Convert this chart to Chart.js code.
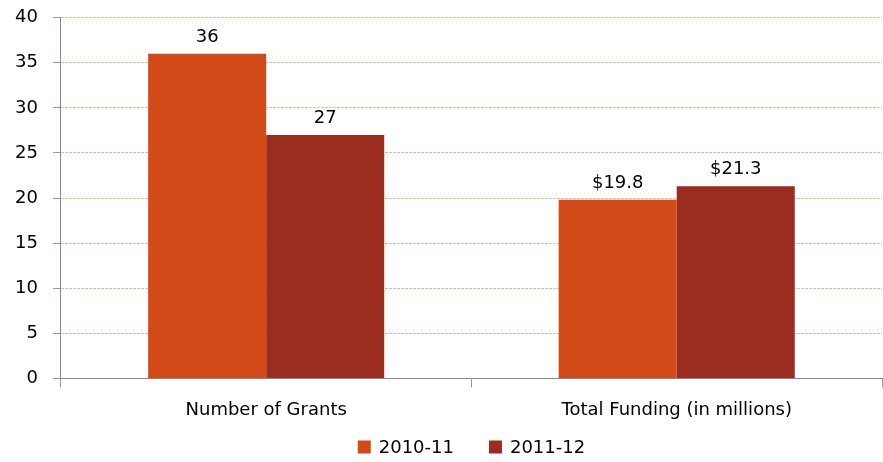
<!DOCTYPE html>
<html>
<head>
<meta charset="utf-8">
<script src="https://cdn.jsdelivr.net/npm/chart.js@4/dist/chart.umd.min.js"></script>
<style>
  html, body { margin: 0; padding: 0; background: #fff; }
  #wrap { width: 883px; height: 462px; }
</style>
</head>
<body>
<div id="wrap"><canvas id="myChart"></canvas></div>
<script>
// data
const categories = ["Number of Grants", "Total Funding (in millions)"];
const series2010 = [36, 19.8];
const series2011 = [27, 21.3];
const valueLabels2010 = ["36", "$19.8"];
const valueLabels2011 = ["27", "$21.3"];
const seriesNames = ["2010-11", "2011-12"];
const seriesColors = ["#D24A17", "#9B2D20"];

const fontFamily = "'DejaVu Sans', sans-serif";

// labels above bars + legend at bottom
const barLabels = {
	id: "barLabels",
	afterDatasetsDraw(chart) {
		const ctx = chart.ctx;
		const texts = [valueLabels2010, valueLabels2011];
		ctx.save();
		ctx.font = "18px " + fontFamily;
		ctx.fillStyle = "#000";
		ctx.textAlign = "center";
		ctx.textBaseline = "alphabetic";
		chart.data.datasets.forEach(function(ds, i) {
			const meta = chart.getDatasetMeta(i);
			meta.data.forEach(function(bar, j) {
				ctx.fillText(texts[i][j], bar.x, bar.y - 12);
			});
		});
		ctx.restore();
	},
	afterDraw(chart) {
		const ctx = chart.ctx;
		const area = chart.chartArea;
		ctx.save();
		ctx.font = "18px " + fontFamily;
		ctx.textBaseline = "middle";
		ctx.textAlign = "left";
		const box = 13, gap = 8, space = 35;
		let total = 0;
		const widths = chart.data.datasets.map(function(ds) {
			return ctx.measureText(ds.label).width;
		});
		widths.forEach(function(w, i) {
			total += box + gap + w + (i > 0 ? space : 0);
		});
		let x = (area.left + area.right) / 2 - total / 2;
		const y = 447;
		chart.data.datasets.forEach(function(ds, i) {
			ctx.fillStyle = ds.backgroundColor;
			ctx.fillRect(x, y - box / 2, box, box);
			ctx.fillStyle = "#000";
			ctx.fillText(ds.label, x + box + gap, y + 1);
			x += box + gap + widths[i] + space;
		});
		ctx.restore();
	}
};

const ctx = document.getElementById("myChart");

new Chart(ctx, {
	type: "bar",
	data: {
		labels: categories,
		datasets: [
			{
				label: seriesNames[0],
				data: series2010,
				backgroundColor: seriesColors[0],
				categoryPercentage: 0.575,
				barPercentage: 1
			},
			{
				label: seriesNames[1],
				data: series2011,
				backgroundColor: seriesColors[1],
				categoryPercentage: 0.575,
				barPercentage: 1
			}
		]
	},
	options: {
		responsive: true,
		maintainAspectRatio: false,
		animation: false,
		layout: {
			padding: { left: 0, right: 1, top: 0, bottom: 29 }
		},
		plugins: {
			legend: { display: false },
			tooltip: { enabled: false }
		},
		scales: {
			x: {
				grid: {
					offset: true,
					drawOnChartArea: false,
					tickLength: 9,
					tickColor: "#999"
				},
				border: { color: "#888" },
				ticks: {
					font: { family: fontFamily, size: 18 },
					color: "#000",
					padding: 12
				}
			},
			y: {
				min: 0,
				max: 40,
				ticks: {
					stepSize: 5,
					font: { family: fontFamily, size: 18, lineHeight: 0.3 },
					color: "#000",
					padding: 15
				},
				grid: {
					color: "#F4B89C",
					tickColor: "#999",
					tickLength: 8
				},
				border: { color: "#888", dash: [3, 1] }
			}
		}
	},
	plugins: [barLabels]
});
</script>
</body>
</html>
